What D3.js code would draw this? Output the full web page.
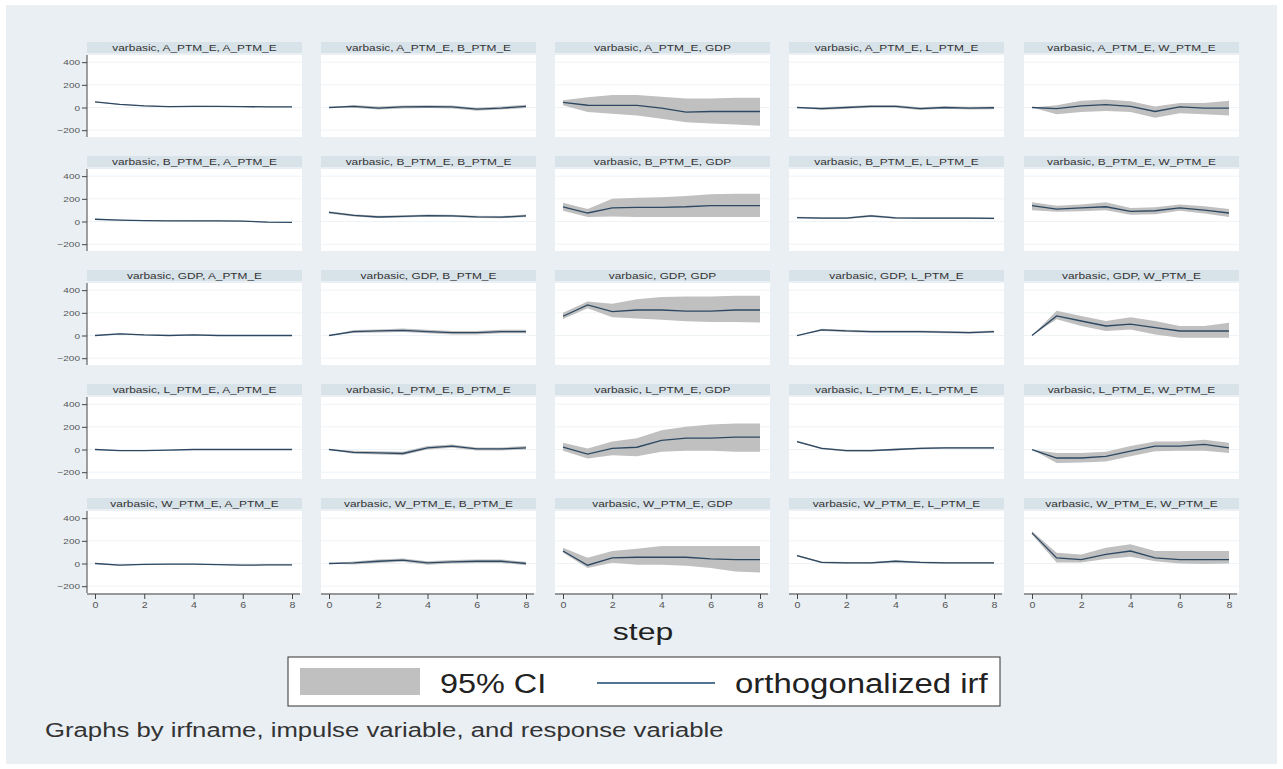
<!DOCTYPE html>
<html>
<head>
<meta charset="UTF-8">
<title>IRF varbasic</title>
<script src="https://d3js.org/d3.v7.min.js"></script>
<style>
  body { margin: 0; background: #ffffff; }
  svg { display: block; font-family: "Liberation Sans", Arial, sans-serif; }
  .axis path, .axis line { stroke: #444; }
  .axis text { fill: #555; }
</style>
</head>
<body>
<svg width="1283" height="769"></svg>
<script>
// variables (impulse = row, response = column)
const vars = ["A_PTM_E", "B_PTM_E", "GDP", "L_PTM_E", "W_PTM_E"];
const steps = [0, 1, 2, 3, 4, 5, 6, 7, 8];
const yTicks = [-200, 0, 200, 400];
const xTicks = [0, 2, 4, 6, 8];

// impulse A_PTM_E -> responses A, B, GDP, L, W
const irf_A = [
  [50, 28, 15, 8, 10, 10, 8, 6, 6],
  [0, 10, -5, 5, 8, 5, -15, -5, 10],
  [45, 20, 18, 18, -5, -40, -35, -35, -35],
  [0, -10, 0, 10, 10, -10, 0, -5, -2],
  [0, -10, 15, 25, 10, -35, 5, -5, -5]
];
const lo_A = [
  [46, 24, 11, 4, 6, 6, 4, 2, 2],
  [0, -2, -18, -8, -5, -8, -28, -18, -5],
  [20, -40, -55, -70, -100, -130, -140, -150, -160],
  [0, -22, -12, -2, -2, -22, -12, -17, -15],
  [0, -60, -40, -30, -40, -90, -50, -60, -70]
];
const hi_A = [
  [54, 32, 19, 12, 16, 14, 12, 10, 10],
  [0, 22, 8, 18, 20, 18, -2, 8, 25],
  [65, 90, 110, 110, 95, 80, 80, 85, 85],
  [0, 2, 12, 22, 22, 2, 12, 7, 10],
  [0, 20, 60, 70, 55, 10, 40, 40, 60]
];

// impulse B_PTM_E
const irf_B = [
  [20, 12, 8, 6, 5, 5, 3, -5, -8],
  [80, 55, 40, 45, 52, 50, 40, 38, 50],
  [130, 75, 120, 125, 125, 130, 140, 140, 140],
  [35, 30, 30, 50, 32, 30, 30, 30, 28],
  [140, 110, 120, 130, 90, 95, 120, 100, 75]
];
const lo_B = [
  [16, 8, 4, 2, 1, 1, -1, -9, -12],
  [70, 45, 30, 35, 42, 40, 30, 28, 40],
  [95, 40, 45, 40, 40, 40, 40, 40, 40],
  [28, 22, 22, 40, 24, 22, 22, 22, 20],
  [100, 85, 90, 100, 60, 65, 95, 70, 40]
];
const hi_B = [
  [24, 16, 12, 10, 9, 9, 7, -1, -4],
  [90, 65, 50, 55, 62, 60, 50, 48, 62],
  [165, 110, 200, 210, 215, 225, 240, 245, 245],
  [42, 38, 38, 60, 40, 38, 38, 38, 36],
  [170, 140, 150, 170, 120, 125, 150, 135, 110]
];

// impulse GDP
const irf_G = [
  [0, 15, 5, 0, 5, 0, 0, 0, 0],
  [0, 35, 40, 45, 35, 25, 25, 35, 35],
  [170, 270, 210, 225, 225, 215, 215, 225, 225],
  [0, 50, 40, 35, 35, 35, 30, 25, 35],
  [0, 173, 128, 84, 100, 70, 40, 40, 40]
];
const lo_G = [
  [-3, 11, 1, -4, 1, -4, -4, -4, -4],
  [0, 22, 26, 30, 20, 10, 10, 20, 20],
  [145, 240, 160, 150, 140, 125, 120, 120, 115],
  [0, 40, 30, 25, 25, 25, 20, 15, 25],
  [0, 143, 84, 40, 54, 10, -20, -20, -20]
];
const hi_G = [
  [3, 19, 9, 4, 9, 4, 4, 4, 4],
  [0, 48, 54, 62, 50, 40, 40, 50, 50],
  [200, 300, 280, 320, 340, 345, 345, 350, 350],
  [0, 60, 50, 45, 45, 45, 40, 35, 45],
  [0, 218, 173, 128, 160, 128, 84, 84, 113]
];

// impulse L_PTM_E
const irf_L = [
  [0, -10, -10, -5, 0, 0, 0, 0, 0],
  [0, -25, -30, -35, 15, 30, 5, 5, 15],
  [20, -40, 10, 20, 80, 100, 100, 110, 110],
  [70, 10, -10, -10, 0, 10, 15, 15, 15],
  [0, -75, -75, -60, -15, 30, 30, 45, 15]
];
const lo_L = [
  [-3, -14, -14, -9, -4, -4, -4, -4, -4],
  [-3, -38, -45, -50, 0, 15, -8, -8, 0],
  [-10, -80, -50, -60, -20, -10, -10, -20, -20],
  [62, 2, -18, -18, -8, 2, 7, 7, 7],
  [0, -120, -115, -105, -60, -15, -10, -10, -30]
];
const hi_L = [
  [3, -6, -6, -1, 4, 4, 4, 4, 4],
  [3, -12, -15, -20, 30, 45, 18, 18, 30],
  [60, 10, 70, 100, 170, 200, 220, 230, 230],
  [78, 18, -2, -2, 8, 18, 23, 23, 23],
  [0, -30, -30, -20, 30, 70, 70, 85, 60]
];

// impulse W_PTM_E
const irf_W = [
  [0, -15, -8, -5, -5, -10, -15, -12, -12],
  [0, 5, 20, 30, 5, 15, 20, 20, 0],
  [110, -15, 50, 55, 55, 55, 40, 35, 35],
  [70, 10, 5, 5, 20, 10, 5, 5, 5],
  [270, 50, 35, 80, 110, 50, 35, 35, 35]
];
const lo_W = [
  [-3, -19, -12, -9, -9, -14, -19, -16, -16],
  [0, -8, 5, 15, -10, 0, 5, 5, -15],
  [95, -40, 6, -10, -10, -20, -40, -70, -80],
  [62, 2, -3, -3, 12, 2, -3, -3, -3],
  [255, 10, 10, 40, 60, 20, 0, -5, 0]
];
const hi_W = [
  [3, -11, -4, -1, -1, -6, -11, -8, -8],
  [0, 18, 35, 45, 20, 30, 35, 35, 15],
  [140, 50, 110, 130, 155, 155, 155, 155, 155],
  [78, 18, 13, 13, 28, 18, 13, 13, 13],
  [285, 95, 80, 140, 170, 110, 110, 110, 110]
];

const irfRows = [irf_A, irf_B, irf_G, irf_L, irf_W];
const loRows = [lo_A, lo_B, lo_G, lo_L, lo_W];
const hiRows = [hi_A, hi_B, hi_G, hi_L, hi_W];

// ---- layout ----
const svg = d3.select("svg");
const colLeft = [87, 321, 555, 789, 1024];
const panelW = 215, plotH = 82, headH = 11;
const rowTop = r => 55 + 114 * r;   // top of white plot area
const hx = 1.25;                      // horizontal stretch of the source image

const bandColor = "#c0c0c0";
const lineColor = "#2c4862";

function stretch(sel, k) {
  sel.each(function () {
    const w = this.getComputedTextLength();
    d3.select(this).attr("textLength", w * k).attr("lengthAdjust", "spacingAndGlyphs");
  });
}

svg.append("rect")
  .attr("x", 6).attr("y", 5).attr("width", 1271).attr("height", 759)
  .attr("fill", "#e9eff3");

const y = d3.scaleLinear().domain([-260, 463]).range([plotH, 0]);

for (let r = 0; r < 5; r++) {
  for (let c = 0; c < 5; c++) {
    const g = svg.append("g")
      .attr("transform", `translate(${colLeft[c]},${rowTop(r)})`);
    const x = d3.scaleLinear().domain([0, 8]).range([8, 205]);

    // header strip
    g.append("rect")
      .attr("x", 0).attr("y", -headH - 2)
      .attr("width", panelW).attr("height", headH)
      .attr("fill", "#d8e2e9");
    g.append("text")
      .attr("x", panelW / 2).attr("y", -4.5)
      .attr("text-anchor", "middle")
      .attr("font-size", 9.5)
      .attr("fill", "#333")
      .text(`varbasic, ${vars[r]}, ${vars[c]}`)
      .call(stretch, hx);

    // plot region
    g.append("rect")
      .attr("width", panelW).attr("height", plotH)
      .attr("fill", "#ffffff");
    g.selectAll("line.grid")
      .data(yTicks)
      .join("line")
      .attr("class", "grid")
      .attr("x1", 0).attr("x2", panelW)
      .attr("y1", d => y(d)).attr("y2", d => y(d))
      .attr("stroke", "#eef3f5")
      .attr("stroke-width", 1);

    const rows = steps.map((s, i) => ({
      s: s, v: irfRows[r][c][i], lo: loRows[r][c][i], hi: hiRows[r][c][i]
    }));

    g.append("path")
      .datum(rows)
      .attr("fill", bandColor)
      .attr("d", d3.area().x(d => x(d.s)).y0(d => y(d.lo)).y1(d => y(d.hi)));

    g.append("path")
      .datum(rows)
      .attr("fill", "none")
      .attr("stroke", lineColor)
      .attr("stroke-width", 1.3)
      .attr("d", d3.line().x(d => x(d.s)).y(d => y(d.v)));

    if (c === 0) {
      const ax = g.append("g")
        .attr("class", "axis")
        .call(d3.axisLeft(y).tickValues(yTicks).tickSize(5).tickPadding(2));
      ax.select(".domain").attr("d", `M0,0V${plotH}`);
      ax.selectAll("text").attr("font-size", 8).attr("font-family", "Liberation Sans, Arial").call(stretch, hx);
    }
    if (r === 4) {
      const ax = g.append("g")
        .attr("class", "axis")
        .attr("transform", `translate(0,${plotH + 1})`)
        .call(d3.axisBottom(x).tickValues(xTicks).tickSize(5).tickPadding(3));
      ax.select(".domain").attr("d", `M0,0H${panelW - 2}`);
      ax.selectAll("text").attr("font-size", 8.5).attr("font-family", "Liberation Sans, Arial").call(stretch, hx);
    }
  }
}

// x title
svg.append("text")
  .attr("x", 643).attr("y", 640)
  .attr("text-anchor", "middle")
  .attr("font-size", 24)
  .attr("fill", "#222")
  .text("step")
  .call(stretch, 1.33);

// legend
const leg = svg.append("g");
leg.append("rect")
  .attr("x", 288).attr("y", 657).attr("width", 712).attr("height", 49)
  .attr("fill", "#ffffff").attr("stroke", "#333").attr("stroke-width", 1);
leg.append("rect")
  .attr("x", 300).attr("y", 668).attr("width", 120).attr("height", 27)
  .attr("fill", bandColor);
leg.append("text")
  .attr("x", 440).attr("y", 693)
  .attr("font-size", 27).attr("fill", "#222")
  .text("95% CI")
  .call(stretch, 1.2);
leg.append("line")
  .attr("x1", 597).attr("x2", 715).attr("y1", 683).attr("y2", 683)
  .attr("stroke", "#1a476f").attr("stroke-width", 1.5);
leg.append("text")
  .attr("x", 735).attr("y", 693)
  .attr("font-size", 27).attr("fill", "#222")
  .text("orthogonalized irf")
  .call(stretch, 1.22);

// note
svg.append("text")
  .attr("x", 45).attr("y", 737)
  .attr("font-size", 20).attr("fill", "#333")
  .text("Graphs by irfname, impulse variable, and response variable")
  .call(stretch, 1.285);
</script>
</body>
</html>
